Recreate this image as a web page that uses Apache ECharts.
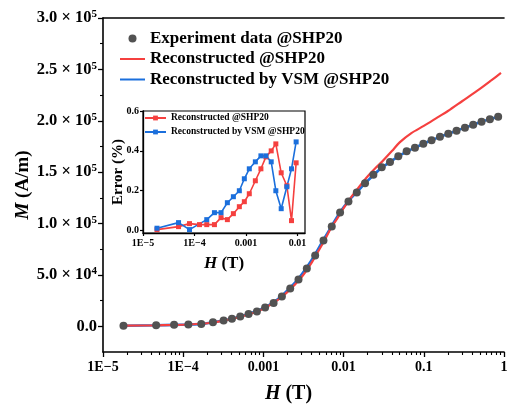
<!DOCTYPE html>
<html><head><meta charset="utf-8">
<script src="https://cdn.jsdelivr.net/npm/echarts@6/dist/echarts.min.js"></script>
<style>html,body{margin:0;padding:0;background:#fff}#c{width:507px;height:408px}</style>
</head><body><div id="c"></div>
<script>
const FONT = 'Liberation Serif';

// Main chart: experiment data
const expH = [1.8e-5, 4.6e-5, 7.7e-5, 1.16e-4, 1.68e-4, 2.35e-4, 3.19e-4, 4.05e-4, 5.14e-4, 6.53e-4, 8.3e-4, 1.05e-3, 1.34e-3, 1.70e-3, 2.16e-3, 2.74e-3, 3.48e-3, 4.42e-3, 5.61e-3, 7.12e-3, 9.04e-3, 0.0115, 0.0146, 0.0185, 0.0235, 0.0299, 0.0379, 0.0481, 0.0611, 0.0776, 0.0986, 0.125, 0.159, 0.202, 0.256, 0.326, 0.413, 0.525, 0.667, 0.846];
const expM = [600, 1000, 1400, 1700, 2300, 3900, 5600, 7300, 9500, 11900, 14500, 18200, 22600, 29000, 36700, 45500, 56200, 68900, 83500, 97200, 110800, 121500, 130300, 139100, 147400, 154700, 160000, 165400, 170300, 173700, 177600, 181000, 184400, 187300, 190300, 193200, 196100, 199000, 201500, 203900];

// Reconstructed @SHP20 (red line)
const recH = [1.8e-5, 5e-5, 1e-4, 2e-4, 3e-4, 5e-4, 7e-4, 1e-3, 1.5e-3, 2e-3, 3e-3, 4e-3, 5e-3, 6e-3, 7e-3, 8.5e-3, 0.01, 0.0125, 0.015, 0.02, 0.025, 0.03, 0.04, 0.05, 0.07, 0.1, 0.15, 0.2, 0.3, 0.5, 0.7, 0.917];
const recM = [600, 1000, 1500, 3000, 5100, 9000, 12200, 17000, 25500, 33500, 48000, 62000, 75000, 86000, 96000, 106000, 115000, 126000, 134000, 146000, 154000, 160000, 170500, 179000, 188000, 195000, 203500, 209500, 219000, 231000, 239500, 246500];

// Reconstructed by VSM @SHP20 (blue line)
const vsmH = [1.8e-5, 4.6e-5, 7.7e-5, 1.16e-4, 1.68e-4, 2.35e-4, 3.19e-4, 4.05e-4, 5.14e-4, 6.53e-4, 8.3e-4, 1.05e-3, 1.34e-3, 1.70e-3, 2.16e-3, 2.74e-3, 3.48e-3, 4.42e-3, 5.61e-3, 7.12e-3, 9.04e-3, 0.0115, 0.0146, 0.0185, 0.0235, 0.0299, 0.0379, 0.0481, 0.0611, 0.0776, 0.0986, 0.125, 0.159, 0.202, 0.256, 0.326, 0.413, 0.525, 0.667, 0.846];
const vsmM = [600, 1000, 1400, 1800, 2400, 3900, 5600, 7400, 9600, 12100, 14900, 18700, 23400, 29800, 37500, 46500, 57500, 70000, 84200, 97800, 111000, 121800, 130500, 139000, 147000, 154400, 159900, 165300, 170000, 173800, 177500, 181000, 184300, 187400, 190400, 193300, 196200, 199000, 201600, 204000];

// Inset: error (%)
const errRecH = [1.87e-5, 4.9e-5, 8.0e-5, 1.25e-4, 1.73e-4, 2.44e-4, 3.28e-4, 4.35e-4, 5.69e-4, 7.43e-4, 9.29e-4, 1.16e-3, 1.52e-3, 1.95e-3, 2.44e-3, 3.09e-3, 3.8e-3, 4.83e-3, 6.22e-3, 7.66e-3, 9.42e-3];
const errRec = [0.005, 0.02, 0.035, 0.03, 0.03, 0.03, 0.065, 0.055, 0.085, 0.12, 0.145, 0.185, 0.25, 0.31, 0.37, 0.40, 0.435, 0.29, 0.225, 0.05, 0.34];
const errVsmH = [1.87e-5, 4.9e-5, 8.0e-5, 1.73e-4, 2.44e-4, 3.28e-4, 4.35e-4, 5.69e-4, 7.43e-4, 9.29e-4, 1.16e-3, 1.52e-3, 1.95e-3, 2.44e-3, 3.09e-3, 3.8e-3, 4.83e-3, 6.22e-3, 7.66e-3, 9.42e-3];
const errVsm = [0.012, 0.04, 0.005, 0.055, 0.09, 0.09, 0.14, 0.17, 0.20, 0.26, 0.31, 0.345, 0.375, 0.375, 0.345, 0.20, 0.11, 0.22, 0.31, 0.445];

// Tick labels
const xTickValues = [1e-5, 1e-4, 1e-3, 1e-2, 1e-1, 1];
const xTickLabels = ['1E\u22125', '1E\u22124', '0.001', '0.01', '0.1', '1'];
const yTickValues = [0, 50000, 100000, 150000, 200000, 250000, 300000];
const yTickMant = ['0.0', '5.0', '1.0', '1.5', '2.0', '2.5', '3.0'];
const yTickPow = ['', '4', '5', '5', '5', '5', '5'];
const yMinorValues = [25000, 75000, 125000, 175000, 225000, 275000];
const insetXTickValues = [1e-5, 1e-4, 1e-3, 1e-2];
const insetXTickLabels = ['1E\u22125', '1E\u22124', '0.001', '0.01'];
const insetYTickValues = [0, 0.2, 0.4, 0.6];
const insetYTickLabels = ['0.0', '0.2', '0.4', '0.6'];

const names = ['Experiment data @SHP20', 'Reconstructed @SHP20', 'Reconstructed by VSM @SHP20'];
const insetNames = {errRec: 'Reconstructed @SHP20', errVsm: 'Reconstructed by VSM @SHP20'};

const RED = '#f5403f';
const BLUE = '#1b6fdc';
const DOT = '#525252';

const xMinor = [];
for (let d = -5; d < 0; d++) {
  for (let k = 2; k <= 9; k++) xMinor.push(k * Math.pow(10, d));
}

function pairs(xs, ys) { return xs.map((x, i) => [x, ys[i]]); }
function nearestIdx(arr, v) {
  let b = 0; for (let i = 1; i < arr.length; i++) if (Math.abs(arr[i] - v) < Math.abs(arr[b] - v)) b = i; return b;
}
function nearestLogIdx(arr, v) {
  let b = 0; for (let i = 1; i < arr.length; i++) if (Math.abs(Math.log10(arr[i]) - Math.log10(v)) < Math.abs(Math.log10(arr[b]) - Math.log10(v))) b = i; return b;
}

const axisLineStyle = {color: '#000', width: 1.6};

const chart = echarts.init(document.getElementById('c'), null, {renderer: 'canvas'});
chart.setOption({
  animation: false,
  backgroundColor: '#fff',
  textStyle: {fontFamily: FONT},
  grid: [
    {left: 103, top: 18, right: 3, bottom: 56, outerBoundsMode: 'none', containLabel: false},
    {left: 143, top: 111, width: 162, height: 122, show: true, borderColor: '#000', borderWidth: 1.2, backgroundColor: '#fff', outerBoundsMode: 'none', containLabel: false}
  ],
  legend: [
    {
      orient: 'vertical', left: 119, top: 30, padding: 0, itemWidth: 25, itemHeight: 8, itemGap: 3.5,
      data: [
        {name: names[0]},
        {name: names[1], itemStyle: {opacity: 0}},
        {name: names[2], itemStyle: {opacity: 0}}
      ],
      textStyle: {fontFamily: FONT, fontWeight: 'bold', fontSize: 17, color: '#000', lineHeight: 17}
    },
    {
      orient: 'vertical', left: 144, top: 113, padding: 0, itemWidth: 21, itemHeight: 6, itemGap: 4,
      data: ['errRec', 'errVsm'],
      formatter: n => insetNames[n],
      textStyle: {fontFamily: FONT, fontWeight: 'bold', fontSize: 9.5, color: '#000', lineHeight: 10}
    }
  ],
  xAxis: [
    {
      gridIndex: 0, type: 'log', logBase: 10, min: 1e-5, max: 1, position: 'bottom',
      name: '{i|H} (T)', nameLocation: 'middle', nameGap: 32, nameMoveOverlap: false,
      nameTextStyle: {fontFamily: FONT, fontWeight: 'bold', fontSize: 20, color: '#000', padding: [0, 30, 0, 0],
        rich: {i: {fontFamily: FONT, fontStyle: 'italic', fontWeight: 'bold', fontSize: 20, color: '#000'}}},
      axisLine: {onZero: false, lineStyle: axisLineStyle},
      axisTick: {inside: false, length: 5, lineStyle: {width: 1.3, color: '#000'}, customValues: xTickValues},
      axisLabel: {customValues: xTickValues, margin: 8, fontFamily: FONT, fontWeight: 'bold', fontSize: 14, color: '#000',
        formatter: v => xTickLabels[nearestLogIdx(xTickValues, v)]},
      splitLine: {show: false}
    },
    {
      gridIndex: 0, type: 'log', logBase: 10, min: 1e-5, max: 1, position: 'bottom',
      axisLine: {show: false, onZero: false},
      axisTick: {inside: false, length: 3, lineStyle: {width: 1.1, color: '#000'}, customValues: xMinor},
      axisLabel: {show: false},
      splitLine: {show: false}
    },
    {
      gridIndex: 0, type: 'value', min: 0, max: 1, position: 'top',
      axisLine: {show: true, onZero: false, lineStyle: axisLineStyle},
      axisTick: {show: false}, axisLabel: {show: false}, splitLine: {show: false}
    },
    {
      gridIndex: 1, type: 'log', logBase: 10, min: 1e-5, max: 0.014, position: 'bottom',
      name: '{i|H} (T)', nameLocation: 'middle', nameGap: 22, nameMoveOverlap: false,
      nameTextStyle: {fontFamily: FONT, fontWeight: 'bold', fontSize: 17, color: '#000',
        rich: {i: {fontFamily: FONT, fontStyle: 'italic', fontWeight: 'bold', fontSize: 17, color: '#000'}}},
      axisLine: {onZero: false, lineStyle: {color: '#000', width: 1.3}},
      axisTick: {inside: false, length: 3, lineStyle: {width: 1.2, color: '#000'}, customValues: insetXTickValues},
      axisLabel: {customValues: insetXTickValues, margin: 5, fontFamily: FONT, fontWeight: 'bold', fontSize: 10, color: '#000',
        formatter: v => insetXTickLabels[nearestLogIdx(insetXTickValues, v)]},
      splitLine: {show: false}
    }
  ],
  yAxis: [
    {
      gridIndex: 0, type: 'value', min: -25000, max: 300000, position: 'left',
      name: '{i|M} (A/m)', nameLocation: 'middle', nameGap: 70, nameMoveOverlap: false,
      nameTextStyle: {fontFamily: FONT, fontWeight: 'bold', fontSize: 19, color: '#000',
        rich: {i: {fontFamily: FONT, fontStyle: 'italic', fontWeight: 'bold', fontSize: 19, color: '#000'}}},
      axisLine: {show: true, onZero: false, lineStyle: axisLineStyle},
      axisTick: {inside: false, length: 5, lineStyle: {width: 1.3, color: '#000'}, customValues: yTickValues},
      axisLabel: {customValues: yTickValues, margin: 6, color: '#000',
        formatter: v => {
          const i = nearestIdx(yTickValues, v);
          if (!yTickPow[i]) return '{a|' + yTickMant[i] + '}';
          return '{a|' + yTickMant[i] + ' \u00d7 10}{s|' + yTickPow[i] + '}';
        },
        rich: {
          a: {fontFamily: FONT, fontWeight: 'bold', fontSize: 16.5, color: '#000', lineHeight: 18},
          s: {fontFamily: FONT, fontWeight: 'bold', fontSize: 11, color: '#000', lineHeight: 11, verticalAlign: 'top'}
        }
      },
      splitLine: {show: false}
    },
    {
      gridIndex: 0, type: 'value', min: -25000, max: 300000, position: 'left',
      axisLine: {show: false, onZero: false},
      axisTick: {inside: false, length: 3, lineStyle: {width: 1.1, color: '#000'}, customValues: yMinorValues},
      axisLabel: {show: false}, splitLine: {show: false}
    },
    {
      gridIndex: 1, type: 'value', min: -0.012, max: 0.6, position: 'left',
      name: 'Error (%)', nameLocation: 'middle', nameGap: 17, nameMoveOverlap: false,
      nameTextStyle: {fontFamily: FONT, fontWeight: 'bold', fontSize: 15, color: '#000'},
      axisLine: {show: true, onZero: false, lineStyle: {color: '#000', width: 1.3}},
      axisTick: {inside: false, length: 3, lineStyle: {width: 1.2, color: '#000'}, customValues: insetYTickValues},
      axisLabel: {customValues: insetYTickValues, margin: 4, fontFamily: FONT, fontWeight: 'bold', fontSize: 10, color: '#000',
        formatter: v => insetYTickLabels[nearestIdx(insetYTickValues, v)]},
      splitLine: {show: false}
    }
  ],
  series: [
    {
      name: names[2], type: 'line', xAxisIndex: 0, yAxisIndex: 0, data: pairs(vsmH, vsmM),
      symbol: 'none', smooth: 0.3, lineStyle: {color: BLUE, width: 2.6}, itemStyle: {color: BLUE}, z: 2
    },
    {
      name: names[1], type: 'line', xAxisIndex: 0, yAxisIndex: 0, data: pairs(recH, recM),
      symbol: 'none', smooth: 0.3, lineStyle: {color: RED, width: 2.2}, itemStyle: {color: RED}, z: 3
    },
    {
      name: names[0], type: 'scatter', xAxisIndex: 0, yAxisIndex: 0, data: pairs(expH, expM),
      symbol: 'circle', symbolSize: 8, itemStyle: {color: DOT, opacity: 1}, z: 4
    },
    {
      name: 'errRec', type: 'line', xAxisIndex: 3, yAxisIndex: 2, data: pairs(errRecH, errRec),
      symbol: 'rect', symbolSize: 5, lineStyle: {color: RED, width: 1.6}, itemStyle: {color: RED}, z: 5
    },
    {
      name: 'errVsm', type: 'line', xAxisIndex: 3, yAxisIndex: 2, data: pairs(errVsmH, errVsm),
      symbol: 'rect', symbolSize: 5, lineStyle: {color: BLUE, width: 1.6}, itemStyle: {color: BLUE}, z: 5
    }
  ]
});
</script>
</body></html>
